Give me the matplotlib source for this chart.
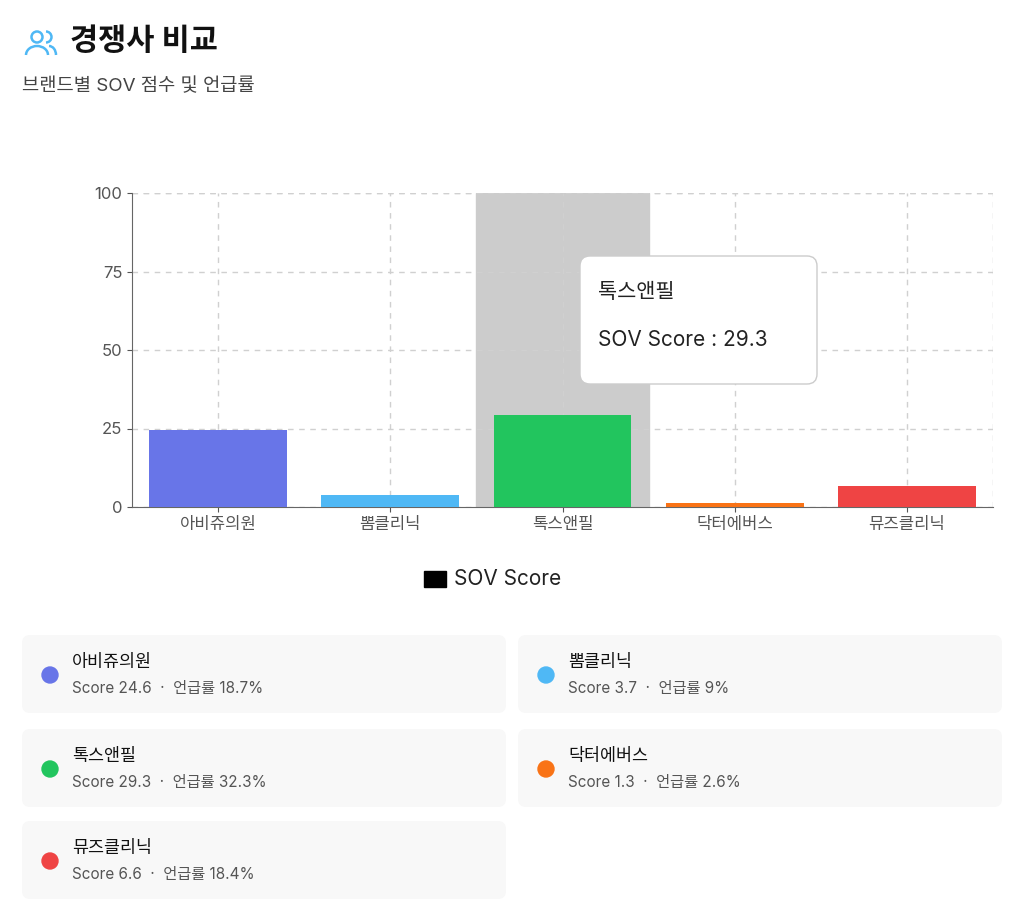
import matplotlib
matplotlib.use("Agg")
import matplotlib.pyplot as plt
from matplotlib.patches import FancyBboxPatch, Circle, Arc, Rectangle

plt.rcParams['font.family'] = ['Inter', 'Noto Sans CJK KR', 'DejaVu Sans']

brands = ["아비쥬의원", "뽐클리닉", "톡스앤필", "닥터에버스", "뮤즈클리닉"]
scores = [24.6, 3.7, 29.3, 1.3, 6.6]
mentions = ["18.7%", "9%", "32.3%", "2.6%", "18.4%"]
colors = ["#6875e8", "#4fb8f5", "#22c55e", "#f97316", "#ef4444"]
yticks = [0, 25, 50, 75, 100]
highlight = 2

W, H = 1024, 924
fig = plt.figure(figsize=(W/100, H/100), dpi=100)
fig.patch.set_facecolor("white")

def fx(x): return x / W
def fy(y): return 1 - y / H

ov = fig.add_axes([0, 0, 1, 1], zorder=0)
ov.set_xlim(0, W); ov.set_ylim(H, 0); ov.axis("off")
ov.add_patch(Circle((37, 37), 5.5, fill=False, ec="#4fb8f5", lw=1.8))
ov.add_patch(Arc((37, 55), 22, 18, theta1=180, theta2=360, ec="#4fb8f5", lw=1.8))
ov.add_patch(Arc((46, 37), 11, 11, theta1=-90, theta2=90, ec="#4fb8f5", lw=1.8))
ov.add_patch(Arc((49, 55), 14, 18, theta1=270, theta2=360, ec="#4fb8f5", lw=1.8))
ov.text(70, 42, "경쟁사 비교", fontsize=22, fontweight="bold", color="#111", va="center")
ov.text(22, 86, "브랜드별 SOV 점수 및 언급률", fontsize=13.5, color="#444", va="center")

ax = fig.add_axes([fx(132), fy(507), fx(993-132), (507-193)/H], zorder=1)
ax.patch.set_alpha(0)
x = list(range(len(brands)))
ax.axvspan(highlight-0.5, highlight+0.5, color="#cccccc", zorder=0)
ax.bar(x, scores, width=0.8, color=colors, zorder=3)
ax.set_xlim(-0.5, 4.5); ax.set_ylim(0, 100)
ax.set_yticks(yticks)
ax.set_xticks(x); ax.set_xticklabels(brands)
ax.tick_params(labelsize=12, colors="#555")
for lab in ax.get_xticklabels() + ax.get_yticklabels():
    lab.set_color("#555")
ax.grid(True, ls=(0, (4, 4)), color="#d0d0d0", lw=1, zorder=1)
for s in ["top", "right"]:
    ax.spines[s].set_visible(False)
ax.spines["left"].set_color("#666"); ax.spines["bottom"].set_color("#666")
ax.axhline(100, ls=(0, (4, 4)), color="#d0d0d0", lw=1)
ax.axvline(4.5, ls=(0, (4, 4)), color="#d0d0d0", lw=1)

ov2 = fig.add_axes([0, 0, 1, 1], zorder=2)
ov2.set_xlim(0, W); ov2.set_ylim(H, 0); ov2.axis("off")
ov2.add_patch(FancyBboxPatch((580, 256), 237, 128, boxstyle="round,pad=0,rounding_size=10",
                             fc="white", ec="#cccccc", lw=1))
ov2.text(598, 292, brands[highlight], fontsize=15, color="#222", va="center")
ov2.text(598, 340, f"SOV Score : {scores[highlight]}", fontsize=15, color="#222", va="center")

ov2.add_patch(Rectangle((424, 571), 22, 16, color="black"))
ov2.text(454, 579, "SOV Score", fontsize=15, color="#222", va="center")

pos = [(22, 635), (518, 635), (22, 729), (518, 729), (22, 821)]
for i, (cx, cy) in enumerate(pos):
    ov2.add_patch(FancyBboxPatch((cx, cy), 484, 78, boxstyle="round,pad=0,rounding_size=8",
                                 fc="#f8f8f8", ec="none"))
    ov2.add_patch(Circle((cx+28, cy+40), 8, color=colors[i]))
    ov2.text(cx+50, cy+27, brands[i], fontsize=12.5, color="#111", va="center")
    ov2.text(cx+50, cy+54, f"Score {scores[i]}  ·  언급률 {mentions[i]}", fontsize=11, color="#555", va="center")

fig.savefig("out.png", dpi=100)
